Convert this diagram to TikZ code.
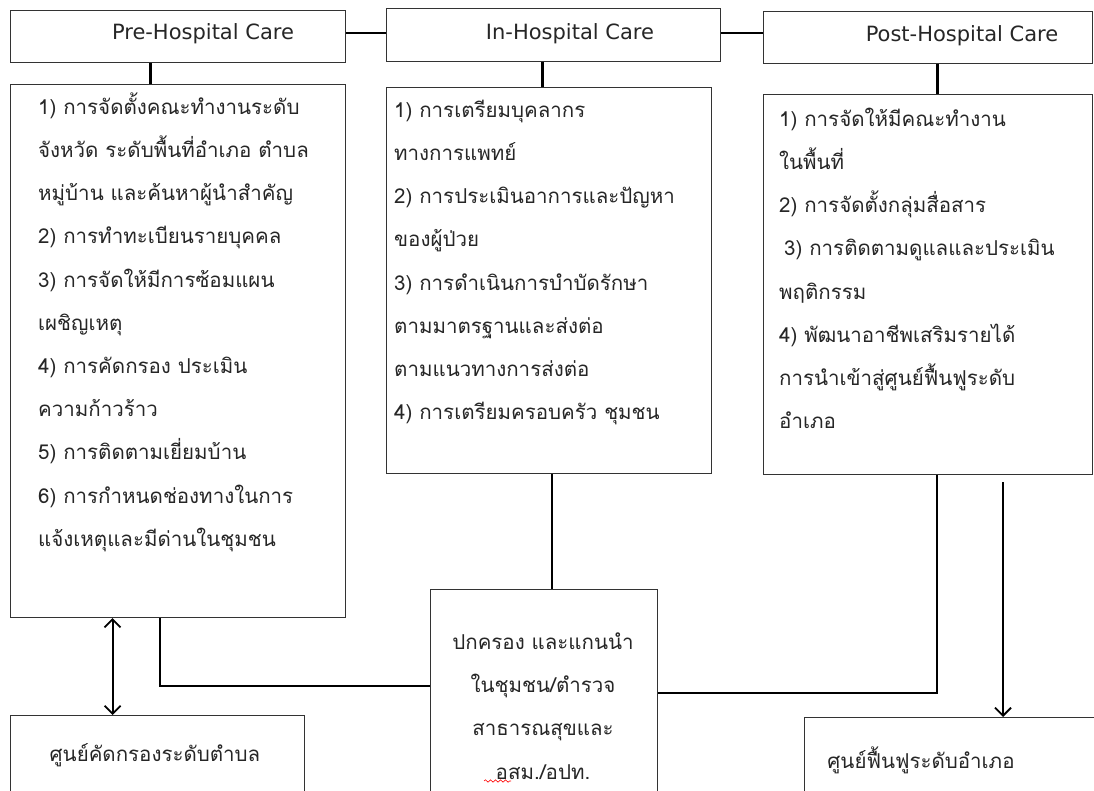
\documentclass[tikz,border=0pt]{standalone}
\usepackage{fontspec}
\setmainfont{Loma}[Script=Thai]
\newfontfamily\latinfont{DejaVu Sans}
\usetikzlibrary{arrows.meta,decorations.pathmorphing}
\newcommand{\firstrule}{\rule{0pt}{25pt}}
\tikzset{
  box/.style={draw=black!80, line width=1.1pt, anchor=north west, inner sep=0pt},
  txt/.style={anchor=north west, inner sep=0pt, align=left, text=black!85,
    font=\fontsize{20.5}{43.2}\selectfont},
  ctxt/.style={inner sep=0pt, align=center, text=black!85,
    font=\fontsize{20.5}{43.2}\selectfont},
  ttl/.style={inner sep=0pt, text=black!85, font=\latinfont\fontsize{21}{24}\selectfont},
  conn/.style={line width=2pt, black},
  arr/.style={line width=2pt, black, -{Straight Barb[length=8pt,width=16pt,line width=1.8pt]}},
  darr/.style={line width=2pt, black, {Straight Barb[length=8pt,width=16pt,line width=1.8pt]}-{Straight Barb[length=8pt,width=16pt,line width=1.8pt]}}
}
\begin{document}
\begin{tikzpicture}[x=1pt,y=-1pt]
\useasboundingbox (0,0) rectangle (1094,791);
\clip (0,0) rectangle (1094,791);
\fill[white] (0,0) rectangle (1094,791);
% top boxes
\node[box, minimum width=335pt, minimum height=52pt] (preT) at (10,10) {};
\node[box, minimum width=334pt, minimum height=53pt] (inT) at (386,8) {};
\node[box, minimum width=329pt, minimum height=52pt] (postT) at (763,11) {};
\node[ttl] (preTl) at (203,34) {Pre-Hospital Care};
\node[ttl] (inTl) at (570,34) {In-Hospital Care};
\node[ttl] (postTl) at (962,36) {Post-Hospital Care};
% content boxes
\node[box, minimum width=335pt, minimum height=533pt] (pre) at (10,84) {};
\node[box, minimum width=325pt, minimum height=386pt] (in) at (386,87) {};
\node[box, minimum width=329pt, minimum height=380pt] (post) at (763,94) {};
\node[txt] (pretxt) at (38,89) {\firstrule 1) การจัดตั้งคณะทำงานระดับ\\
จังหวัด ระดับพื้นที่อำเภอ ตำบล\\
หมู่บ้าน และค้นหาผู้นำสำคัญ\\
2) การทำทะเบียนรายบุคคล\\
3) การจัดให้มีการซ้อมแผน\\
เผชิญเหตุ\\
4) การคัดกรอง ประเมิน\\
ความก้าวร้าว\\
5) การติดตามเยี่ยมบ้าน\\
6) การกำหนดช่องทางในการ\\
แจ้งเหตุและมีด่านในชุมชน};
\node[txt] (intxt) at (394,92) {\firstrule 1) การเตรียมบุคลากร\\
ทางการแพทย์\\
2) การประเมินอาการและปัญหา\\
ของผู้ป่วย\\
3) การดำเนินการบำบัดรักษา\\
ตามมาตรฐานและส่งต่อ\\
ตามแนวทางการส่งต่อ\\
4) การเตรียมครอบครัว ชุมชน};
\node[txt] (posttxt) at (779,101) {\firstrule 1) การจัดให้มีคณะทำงาน\\
ในพื้นที่\\
2) การจัดตั้งกลุ่มสื่อสาร\\
\hspace*{5pt}3) การติดตามดูแลและประเมิน\\
พฤติกรรม\\
4) พัฒนาอาชีพเสริมรายได้\\
การนำเข้าสู่ศูนย์ฟื้นฟูระดับ\\
อำเภอ};
% bottom boxes
\node[box, minimum width=294pt, minimum height=100pt] (lb) at (10,715) {};
\node[box, minimum width=227pt, minimum height=230pt] (mid) at (430,589) {};
\node[box, minimum width=300pt, minimum height=100pt] (rb) at (804,717) {};
\node[ctxt] (lbt) at (155,755) {ศูนย์คัดกรองระดับตำบล};
\node[ctxt] (rbt) at (921,760) {ศูนย์ฟื้นฟูระดับอำเภอ};
\node[ctxt] (midt) at (543,706) {ปกครอง และแกนนำ\\ ในชุมชน/ตำรวจ\\ สาธารณสุขและ\\ อสม./อปท.};
\draw[red, line width=0.6pt, decorate, decoration={snake, amplitude=1.2pt, segment length=5pt}] (484,781) -- (511,781);
% connectors
\draw[conn] (preT.east |- 0,33) -- (inT.west |- 0,33);
\draw[conn] (inT.east |- 0,33) -- (postT.west |- 0,33);
\draw[conn, line width=2.4pt] ([xshift=-27.5pt]preT.south) -- ([xshift=-27.5pt]preT.south |- pre.north);
\draw[conn, line width=2.4pt] ([xshift=-11pt]inT.south) -- ([xshift=-11pt]inT.south |- in.north);
\draw[conn, line width=2.4pt] ([xshift=9.5pt]postT.south) -- ([xshift=9.5pt]postT.south |- post.north);
\draw[darr] ([xshift=-65.5pt]pre.south) -- ([xshift=-65.5pt]pre.south |- lb.north);
\draw[conn] ([xshift=-18.5pt]pre.south) |- ([yshift=19pt]mid.west);
\draw[conn] ([xshift=2.5pt]in.south) -- ([xshift=2.5pt]in.south |- mid.north);
\draw[conn] ([xshift=8.5pt]post.south) |- ([yshift=12pt]mid.east);
\coordinate (arrs) at (1003,482);
\draw[arr] (arrs) -- (arrs |- rb.north);
\end{tikzpicture}
\end{document}
